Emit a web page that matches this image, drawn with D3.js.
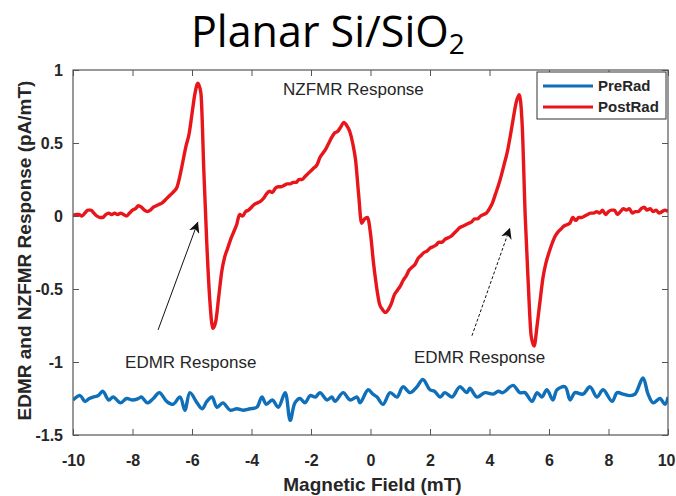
<!DOCTYPE html>
<html>
<head>
<meta charset="utf-8">
<script src="https://cdn.jsdelivr.net/npm/d3@7"></script>
<style>
  body { margin: 0; background: #fff; }
  svg { display: block; }
  .tick-label { font-family: "Liberation Sans", Arial, sans-serif; font-weight: bold; font-size: 16px; fill: #262626; }
  .axis-title { font-family: "Liberation Sans", Arial, sans-serif; font-weight: bold; font-size: 19px; fill: #262626; }
  .note { font-family: "Liberation Sans", Arial, sans-serif; font-size: 17px; fill: #262626; }
</style>
</head>
<body>
<svg id="chart" width="676" height="496"></svg>
<script>
// ---- data ----
const fieldTicks = [-10, -8, -6, -4, -2, 0, 2, 4, 6, 8, 10];
const responseTicks = [-1.5, -1, -0.5, 0, 0.5, 1];
const seriesNames = ['PreRad', 'PostRad'];
const seriesColors = ['#0f6fb8', '#e8161b'];

// PostRad (field mT, response pA/mT)
const postRad = [
  [-10.0, 0.00], [-9.9, 0.01], [-9.8, 0.01], [-9.7, 0.00], [-9.6, 0.02], [-9.5, 0.04], [-9.4, 0.04],
  [-9.3, 0.02], [-9.2, 0.00], [-9.1, -0.01], [-9.0, -0.01], [-8.9, 0.01], [-8.8, 0.02], [-8.7, 0.01],
  [-8.6, 0.02], [-8.5, 0.01], [-8.4, 0.02], [-8.3, 0.01], [-8.2, 0.00], [-8.1, 0.02], [-8.0, 0.04],
  [-7.9, 0.05], [-7.8, 0.07], [-7.7, 0.06], [-7.6, 0.04], [-7.5, 0.03], [-7.4, 0.04], [-7.3, 0.06],
  [-7.2, 0.07], [-7.1, 0.08], [-7.0, 0.09], [-6.9, 0.11], [-6.8, 0.13], [-6.7, 0.15], [-6.6, 0.17],
  [-6.5, 0.20], [-6.4, 0.28], [-6.3, 0.38], [-6.2, 0.48], [-6.1, 0.56], [-6.0, 0.70], [-5.9, 0.84],
  [-5.8, 0.91], [-5.7, 0.84], [-5.6, 0.30], [-5.5, -0.20], [-5.4, -0.58], [-5.3, -0.77], [-5.2, -0.72],
  [-5.1, -0.55], [-5.0, -0.38], [-4.9, -0.28], [-4.8, -0.22], [-4.7, -0.16], [-4.6, -0.11], [-4.5, -0.06],
  [-4.4, 0.01], [-4.3, 0.00], [-4.2, 0.03], [-4.1, 0.04], [-4.0, 0.06], [-3.9, 0.08], [-3.8, 0.09],
  [-3.7, 0.10], [-3.6, 0.12], [-3.5, 0.15], [-3.4, 0.17], [-3.3, 0.16], [-3.2, 0.19], [-3.1, 0.20],
  [-3.0, 0.20], [-2.9, 0.21], [-2.8, 0.22], [-2.7, 0.22], [-2.6, 0.23], [-2.5, 0.23], [-2.4, 0.25],
  [-2.3, 0.25], [-2.2, 0.27], [-2.1, 0.29], [-2.0, 0.31], [-1.9, 0.33], [-1.8, 0.35], [-1.7, 0.40],
  [-1.6, 0.43], [-1.5, 0.46], [-1.4, 0.50], [-1.3, 0.54], [-1.2, 0.57], [-1.1, 0.58], [-1.0, 0.61],
  [-0.9, 0.64], [-0.8, 0.62], [-0.7, 0.58], [-0.6, 0.50], [-0.5, 0.38], [-0.4, 0.15], [-0.3, -0.05],
  [-0.2, -0.02], [-0.1, -0.01], [0.0, -0.12], [0.1, -0.32], [0.2, -0.48], [0.3, -0.60], [0.4, -0.64],
  [0.5, -0.66], [0.6, -0.64], [0.7, -0.60], [0.8, -0.54], [0.9, -0.51], [1.0, -0.48], [1.1, -0.44],
  [1.2, -0.41], [1.3, -0.37], [1.4, -0.35], [1.5, -0.33], [1.6, -0.29], [1.7, -0.27], [1.8, -0.25],
  [1.9, -0.24], [2.0, -0.22], [2.1, -0.21], [2.2, -0.20], [2.3, -0.18], [2.4, -0.18], [2.5, -0.16],
  [2.6, -0.15], [2.7, -0.14], [2.8, -0.12], [2.9, -0.10], [3.0, -0.08], [3.1, -0.07], [3.2, -0.06],
  [3.3, -0.05], [3.4, -0.04], [3.5, -0.02], [3.6, -0.02], [3.7, 0.00], [3.8, 0.01], [3.9, 0.02],
  [4.0, 0.05], [4.1, 0.09], [4.2, 0.15], [4.3, 0.21], [4.4, 0.28], [4.5, 0.36], [4.6, 0.44],
  [4.7, 0.55], [4.8, 0.67], [4.9, 0.78], [5.0, 0.83], [5.1, 0.62], [5.2, 0.00], [5.3, -0.45],
  [5.4, -0.82], [5.5, -0.89], [5.6, -0.75], [5.7, -0.58], [5.8, -0.42], [5.9, -0.32], [6.0, -0.25],
  [6.1, -0.19], [6.2, -0.14], [6.3, -0.11], [6.4, -0.09], [6.5, -0.07], [6.6, -0.06], [6.7, -0.05],
  [6.8, -0.01], [6.9, -0.03], [7.0, -0.01], [7.1, -0.01], [7.2, 0.00], [7.3, 0.01], [7.4, 0.02],
  [7.5, 0.02], [7.6, 0.03], [7.7, 0.02], [7.8, 0.04], [7.9, 0.01], [8.0, 0.03], [8.1, 0.04],
  [8.2, 0.04], [8.3, 0.01], [8.4, 0.03], [8.5, 0.05], [8.6, 0.04], [8.7, 0.05], [8.8, 0.02],
  [8.9, 0.03], [9.0, 0.03], [9.1, 0.05], [9.2, 0.06], [9.3, 0.04], [9.4, 0.05], [9.5, 0.03],
  [9.6, 0.04], [9.7, 0.02], [9.8, 0.03], [9.9, 0.04], [10.0, 0.03]
];

// PreRad (field mT, response pA/mT)
const preRad = [
  [-10.0, -1.26], [-9.76, -1.23], [-9.6, -1.27], [-9.45, -1.25], [-9.33, -1.24], [-9.15, -1.23], [-9.0, -1.20],
  [-8.8, -1.26], [-8.65, -1.24], [-8.4, -1.28], [-8.2, -1.25], [-8.0, -1.26], [-7.8, -1.25], [-7.7, -1.24],
  [-7.5, -1.28], [-7.3, -1.25], [-7.1, -1.21], [-6.85, -1.27], [-6.64, -1.29], [-6.4, -1.24], [-6.24, -1.33],
  [-6.07, -1.21], [-5.83, -1.28], [-5.66, -1.32], [-5.5, -1.27], [-5.33, -1.24], [-5.16, -1.31], [-4.96, -1.28],
  [-4.72, -1.33], [-4.49, -1.32], [-4.29, -1.33], [-4.05, -1.32], [-3.82, -1.31], [-3.65, -1.24], [-3.5, -1.29],
  [-3.3, -1.26], [-3.1, -1.31], [-2.87, -1.21], [-2.7, -1.40], [-2.54, -1.28], [-2.37, -1.25], [-2.2, -1.28],
  [-2.03, -1.23], [-1.85, -1.24], [-1.7, -1.21], [-1.46, -1.26], [-1.3, -1.24], [-1.19, -1.27], [-0.92, -1.21],
  [-0.69, -1.26], [-0.45, -1.24], [-0.35, -1.28], [-0.08, -1.19], [0.08, -1.22], [0.22, -1.24], [0.42, -1.29],
  [0.66, -1.21], [0.89, -1.24], [1.09, -1.17], [1.33, -1.21], [1.56, -1.17], [1.76, -1.12], [2.0, -1.19],
  [2.15, -1.20], [2.34, -1.24], [2.5, -1.21], [2.74, -1.24], [3.0, -1.17], [3.24, -1.21], [3.34, -1.18],
  [3.58, -1.24], [3.85, -1.21], [4.12, -1.22], [4.3, -1.20], [4.45, -1.21], [4.79, -1.16], [5.02, -1.21],
  [5.19, -1.21], [5.43, -1.27], [5.6, -1.21], [5.76, -1.24], [5.93, -1.19], [6.13, -1.26], [6.27, -1.19],
  [6.54, -1.17], [6.71, -1.26], [6.87, -1.21], [7.14, -1.22], [7.38, -1.17], [7.61, -1.24], [7.82, -1.19],
  [8.12, -1.27], [8.29, -1.21], [8.49, -1.22], [8.72, -1.23], [8.89, -1.22], [9.16, -1.11], [9.33, -1.22],
  [9.5, -1.28], [9.73, -1.25], [9.9, -1.29], [10.0, -1.24]
];

// annotations, in data units
const notes = [
  {text: 'NZFMR Response', x: -2.94, y: 0.83},
  {text: 'EDMR Response', x: -8.25, y: -1.04},
  {text: 'EDMR Response', x: 1.46, y: -1.01}
];
const arrows = [
  {from: [-7.14, -0.78], to: [-5.80, -0.04], dash: null},
  {from: [3.41, -0.82], to: [4.69, -0.08], dash: '3,2'}
];

// ---- layout ----
const svg = d3.select('#chart');
const plot = {l: 73, r: 668, t: 70, b: 435};

const x = d3.scaleLinear().domain([-10, 10]).range([plot.l, plot.r]);
const y = d3.scaleLinear().domain([-1.5, 1]).range([plot.b, plot.t]);

// title
const title = svg.append('text')
  .attr('x', 191).attr('y', 47)
  .style('font-family', '"Open Sans", "Noto Sans", sans-serif')
  .style('font-size', '43px')
  .attr('fill', '#000');
title.append('tspan').text('Planar Si/SiO');
title.append('tspan').text('2').attr('dy', 7).style('font-size', '28px');

// clip for the curves
svg.append('clipPath').attr('id', 'clip')
  .append('rect')
  .attr('x', plot.l).attr('y', plot.t)
  .attr('width', plot.r - plot.l).attr('height', plot.b - plot.t);

// curves
const line = d3.line()
  .x(d => x(d[0]))
  .y(d => y(d[1]));

const curves = svg.append('g').attr('clip-path', 'url(#clip)');
curves.append('path')
  .datum(preRad)
  .attr('d', line.curve(d3.curveCatmullRom.alpha(0.5)))
  .attr('fill', 'none')
  .attr('stroke', seriesColors[0])
  .attr('stroke-width', 3.4)
  .attr('stroke-linejoin', 'round');
curves.append('path')
  .datum(postRad)
  .attr('d', line.curve(d3.curveMonotoneX))
  .attr('fill', 'none')
  .attr('stroke', seriesColors[1])
  .attr('stroke-width', 3.4)
  .attr('stroke-linejoin', 'round');

// axes, matlab-ish box with inward ticks on all sides
const tickLen = 6;
const axisColor = '#555';

svg.append('g')
  .attr('transform', `translate(0,${plot.b})`)
  .call(d3.axisBottom(x).tickValues(fieldTicks).tickSize(-tickLen).tickPadding(20)
    .tickFormat(d => d))
  .call(g => g.select('.domain').remove())
  .call(g => g.selectAll('line').attr('stroke', axisColor))
  .call(g => g.selectAll('text').attr('class', 'tick-label').attr('fill', null))
  .call(g => g.selectAll('text').filter(d => d === 10).attr('text-anchor', 'end').attr('x', 675 - plot.r));

svg.append('g')
  .attr('transform', `translate(0,${plot.t})`)
  .call(d3.axisTop(x).tickValues(fieldTicks).tickSize(-tickLen).tickFormat(''))
  .call(g => g.select('.domain').remove())
  .call(g => g.selectAll('line').attr('stroke', axisColor));

svg.append('g')
  .attr('transform', `translate(${plot.l},0)`)
  .call(d3.axisLeft(y).tickValues(responseTicks).tickSize(-tickLen).tickPadding(10)
    .tickFormat(d => d))
  .call(g => g.select('.domain').remove())
  .call(g => g.selectAll('line').attr('stroke', axisColor))
  .call(g => g.selectAll('text').attr('class', 'tick-label').attr('fill', null));

svg.append('g')
  .attr('transform', `translate(${plot.r},0)`)
  .call(d3.axisRight(y).tickValues(responseTicks).tickSize(-tickLen).tickFormat(''))
  .call(g => g.select('.domain').remove())
  .call(g => g.selectAll('line').attr('stroke', axisColor));

svg.append('rect')
  .attr('x', plot.l).attr('y', plot.t)
  .attr('width', plot.r - plot.l).attr('height', plot.b - plot.t)
  .attr('fill', 'none')
  .attr('stroke', axisColor)
  .attr('stroke-width', 1.2);

// axis titles
svg.append('text')
  .attr('class', 'axis-title')
  .attr('x', (plot.l + plot.r) / 2 + 2).attr('y', 491)
  .attr('text-anchor', 'middle')
  .text('Magnetic Field (mT)');

svg.append('text')
  .attr('class', 'axis-title')
  .attr('transform', `translate(31,${(plot.t + plot.b) / 2 - 2}) rotate(-90)`)
  .attr('text-anchor', 'middle')
  .text('EDMR and NZFMR Response (pA/mT)');

// annotations
svg.selectAll('.note')
  .data(notes)
  .join('text')
  .attr('class', 'note')
  .attr('x', d => x(d.x))
  .attr('y', d => y(d.y))
  .text(d => d.text);

svg.append('defs').append('marker')
  .attr('id', 'head')
  .attr('viewBox', '0 0 10 10')
  .attr('refX', 10).attr('refY', 5)
  .attr('markerWidth', 11).attr('markerHeight', 11)
  .attr('markerUnits', 'userSpaceOnUse')
  .attr('orient', 'auto')
  .append('path')
  .attr('d', 'M0,0 L10,5 L0,10 L3,5 Z')
  .attr('fill', '#111');

svg.selectAll('.arrow')
  .data(arrows)
  .join('line')
  .attr('class', 'arrow')
  .attr('x1', d => x(d.from[0])).attr('y1', d => y(d.from[1]))
  .attr('x2', d => x(d.to[0])).attr('y2', d => y(d.to[1]))
  .attr('stroke', '#111')
  .attr('stroke-width', 1)
  .attr('stroke-dasharray', d => d.dash)
  .attr('marker-end', 'url(#head)');

// legend
const legend = svg.append('g').attr('transform', 'translate(537,72)');
legend.append('rect')
  .attr('width', 129).attr('height', 47)
  .attr('fill', '#fff')
  .attr('stroke', '#333')
  .attr('stroke-width', 1);
seriesNames.forEach((name, i) => {
  const row = legend.append('g').attr('transform', `translate(0,${14 + i * 21})`);
  row.append('line')
    .attr('x1', 6).attr('x2', 56)
    .attr('stroke', seriesColors[i])
    .attr('stroke-width', 3.2);
  row.append('text')
    .attr('x', 61).attr('y', 5)
    .style('font-family', '"Liberation Sans", Arial, sans-serif')
    .style('font-weight', 'bold')
    .style('font-size', '15px')
    .attr('fill', '#262626')
    .text(name);
});
</script>
</body>
</html>
